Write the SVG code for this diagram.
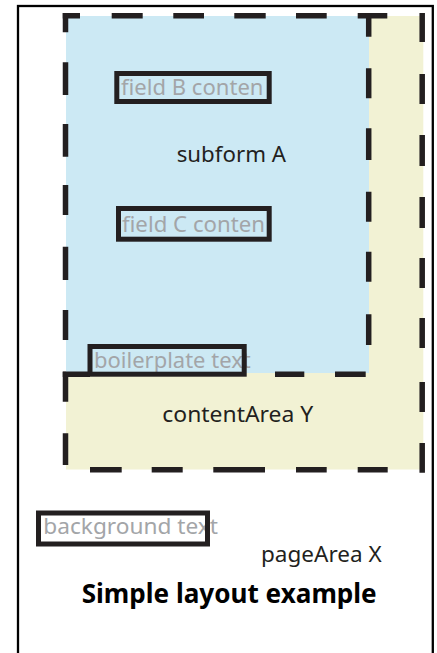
<svg xmlns="http://www.w3.org/2000/svg" width="437" height="653" viewBox="0 0 437 653">
<style>
.page{fill:#ffffff;stroke:#000000;stroke-width:2.3}
.yel{fill:#f2f2d4}
.blu{fill:#cce9f4}
.dash{fill:none;stroke:#231f20;stroke-width:5.5;stroke-linecap:butt}
.box{fill:none;stroke:#231f20;stroke-width:5}
.grey{font-family:"Noto Sans","Liberation Sans",sans-serif;font-size:22px;fill:#a3a5a8}
.lbl{font-family:"Noto Sans","Liberation Sans",sans-serif;font-size:22px;fill:#231f20}
.title{font-family:"Noto Sans","Liberation Sans",sans-serif;font-size:26px;font-weight:bold;fill:#000000}
</style>
<g id="pageArea-X">
<rect class="page" x="18" y="6" width="414.8" height="680"/>
<text class="lbl" x="261" y="561.7" textLength="120.7" lengthAdjust="spacingAndGlyphs">pageArea X</text>
</g>
<g id="contentArea-Y">
<rect class="yel" x="66" y="16" width="357.3" height="453.5"/>
<path class="dash" d="M422.2 13V42M422.2 74V104M422.2 135V166M422.2 197V228M422.2 258V288M422.2 318V348M422.2 382V412M422.2 443V472.7"/>
<path class="dash" d="M90 469.7H121.7M151.7 469.7H182.7M213.3 469.7H265M296 469.7H326.7M357.7 469.7H387.7"/>
<path class="dash" d="M65.5 371.7V401.7M65.5 433.3V465"/>
<text class="lbl" x="162.3" y="421.7" textLength="151" lengthAdjust="spacingAndGlyphs">contentArea Y</text>
</g>
<g id="subform-A">
<rect class="blu" x="66" y="16" width="303" height="357"/>
<path class="dash" d="M62.75 15.8H80M111.7 15.8H142.7M173.3 15.8H204M234.3 15.8H265.7M296 15.8H326.7M357.7 15.8H387.3"/>
<path class="dash" d="M65.5 13V32.3M65.5 62.3V95M65.5 124V156.7M65.5 185V215M65.5 246.7V280M65.5 310V340"/>
<path class="dash" d="M368.7 13V36.7M368.7 68.3V98.3M368.7 128.3V160M368.7 191.7V221.7M368.7 251.7V281.7M368.7 314.3V345"/>
<path class="dash" d="M335 374.3H365.7M275 374.3H304.3M62.75 374.3H90"/>
<text class="lbl" x="176.7" y="162" textLength="109.3" lengthAdjust="spacingAndGlyphs">subform A</text>
</g>
<g id="field-B">
<text class="grey" x="121" y="95" textLength="142.5" lengthAdjust="spacingAndGlyphs">field B conten</text>
<rect class="box" x="116.8" y="73.5" width="152.4" height="28"/>
</g>
<g id="field-C">
<text class="grey" x="122" y="231.7" textLength="143" lengthAdjust="spacingAndGlyphs">field C conten</text>
<rect class="box" x="118.5" y="208.5" width="150.7" height="30.7"/>
</g>
<g id="boilerplate">
<text class="grey" x="94" y="368.3" textLength="156.7" lengthAdjust="spacingAndGlyphs">boilerplate text</text>
<rect class="box" x="90" y="346.5" width="154.2" height="27.7"/>
</g>
<g id="background-text">
<text class="grey" x="43.3" y="534.3" textLength="174.7" lengthAdjust="spacingAndGlyphs">background text</text>
<rect class="box" x="38.5" y="513" width="169" height="31"/>
</g>
<g id="connectors"/>
<g id="caption">
<text class="title" x="81.7" y="602.7" textLength="295" lengthAdjust="spacingAndGlyphs">Simple layout example</text>
</g>
</svg>
